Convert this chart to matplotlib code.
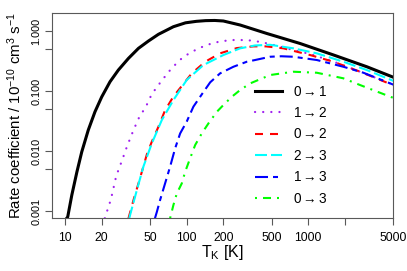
import numpy as np
import matplotlib
matplotlib.use('Agg')
import matplotlib.pyplot as plt
from matplotlib.ticker import FixedLocator, NullLocator

plt.rcParams['font.family'] = ['Liberation Sans', 'DejaVu Sans']
plt.rcParams['mathtext.fontset'] = 'custom'
plt.rcParams['mathtext.rm'] = 'Liberation Sans'
plt.rcParams['mathtext.it'] = 'Liberation Sans'
plt.rcParams['mathtext.fallback'] = 'stixsans'
plt.rcParams['lines.scale_dashes'] = False

# rate coefficients (T in K, k in 1e-10 cm^3 s^-1)
t_01 = [10.3, 10.5, 11.35, 12.5, 13.7, 15.5, 17.6, 20.0, 23.4, 27.4, 33.2, 40.1, 48.4, 58.5,
        77.7, 97.7, 120, 143, 170, 200, 275, 456, 856, 1607, 3030, 5000]
k_01 = [0.00076, 0.0008, 0.00185, 0.0045, 0.0097, 0.0224, 0.0452, 0.080, 0.143, 0.224, 0.351, 0.515, 0.681, 0.881,
        1.18, 1.37, 1.45, 1.49, 1.50, 1.47, 1.26, 0.91, 0.62, 0.40, 0.254, 0.17]

t_12 = [21.2, 21.6, 23.8, 26.3, 29.3, 32.2, 36.5, 41.4, 45.5, 51.6, 62.4, 75.4, 93.9, 124.8, 165.8,
        227, 312, 401, 485, 754, 1035, 1608, 2666, 5000]
k_12 = [0.00076, 0.00086, 0.00157, 0.00383, 0.0069, 0.0118, 0.0224, 0.0398, 0.0515, 0.089, 0.150, 0.242, 0.373,
        0.515, 0.638, 0.708, 0.708, 0.66, 0.607, 0.482, 0.414, 0.31, 0.21, 0.128]

t_02 = [33.2, 36.5, 41.4, 47.0, 51.6, 58.5, 66.4, 77.7, 110, 142, 188, 258, 354, 450, 624, 1035, 1608, 2666, 5000]
k_02 = [0.00076, 0.00153, 0.0036, 0.0088, 0.0143, 0.0254, 0.048, 0.081, 0.197, 0.308, 0.425, 0.52, 0.555, 0.555,
        0.515, 0.398, 0.308, 0.21, 0.125]

t_23 = [33.7, 34.2, 38.9, 44.0, 51.6, 62.4, 77.7, 100, 137, 200, 275, 365, 485, 754, 1175, 1944, 3028, 5000]
k_23 = [0.00076, 0.00086, 0.00224, 0.0055, 0.0134, 0.0329, 0.0708, 0.153, 0.271, 0.398, 0.515, 0.575, 0.59,
        0.515, 0.425, 0.308, 0.224, 0.148]

t_13 = [54.8, 56.8, 60.4, 66.4, 73.0, 80.3, 88.3, 100, 113.5, 133, 156, 188, 242, 312, 365, 485, 600, 754, 1175,
        1944, 2839, 5000]
k_13 = [0.00076, 0.00097, 0.00153, 0.0029, 0.0055, 0.0111, 0.0197, 0.031, 0.055, 0.088, 0.14, 0.197, 0.254, 0.308,
        0.329, 0.373, 0.38, 0.373, 0.329, 0.254, 0.202, 0.128]

t_03 = [73.0, 77.7, 82.9, 91.1, 97.0, 106.7, 117.3, 133, 151, 177, 200, 235, 275, 332, 485, 754, 1175, 1944,
        2666, 5000]
k_03 = [0.00076, 0.00126, 0.00197, 0.0029, 0.0045, 0.0076, 0.0126, 0.0197, 0.029, 0.0452, 0.0584, 0.0804,
        0.104, 0.134, 0.185, 0.21, 0.202, 0.163, 0.126, 0.077]

labels = ['0$\\rightarrow$1', '1$\\rightarrow$2', '0$\\rightarrow$2',
          '2$\\rightarrow$3', '1$\\rightarrow$3', '0$\\rightarrow$3']

x_ticks = [10, 20, 50, 100, 200, 500, 1000, 2000, 5000]
x_ticklabels = ['10', '20', '50', '100', '200', '500', '1000', '', '5000']
y_ticks = [0.001, 0.005, 0.01, 0.05, 0.1, 0.5, 1.0]
y_ticklabels = ['0.001', '', '0.010', '', '0.100', '', '1.000']

px = 0.72  # pixel -> point at dpi 100

fig = plt.figure(figsize=(4.07, 2.71), dpi=100)
ax = fig.add_axes([52 / 407, 1 - 218.3 / 271, 341.3 / 407, 205.6 / 271])

ax.plot(t_01, k_01, color='black', lw=2.2, solid_joinstyle='round', label=labels[0])
ax.plot(t_12, k_12, color='#A020F0', lw=1.6, dashes=(0.1, 8 * px), dash_capstyle='round', label=labels[1])
ax.plot(t_02, k_02, color='red', lw=1.5, dashes=(8 * px, 7 * px), label=labels[2])
ax.plot(t_23, k_23, color='cyan', lw=1.5, dashes=(12 * px, 4 * px), label=labels[3])
ax.plot(t_13, k_13, color='blue', lw=1.5, dashes=(13 * px, 5 * px, 5 * px, 5 * px), label=labels[4])
ax.plot(t_03, k_03, color='#00FF00', lw=1.5, dashes=(2 * px, 6 * px, 8 * px, 6 * px), label=labels[5])

ax.set_xscale('log')
ax.set_yscale('log')
ax.set_xlim(7.8, 5000)
ax.set_ylim(0.00076, 2.02)

ax.xaxis.set_major_locator(FixedLocator(x_ticks))
ax.xaxis.set_minor_locator(NullLocator())
ax.set_xticklabels(x_ticklabels)
ax.yaxis.set_major_locator(FixedLocator(y_ticks))
ax.yaxis.set_minor_locator(NullLocator())
ax.set_yticklabels(y_ticklabels, rotation=90, va='center')

for s in ax.spines.values():
    s.set_color('0.35')
    s.set_linewidth(0.8)
ax.tick_params(axis='both', direction='out', length=4.8, width=0.8, color='0.35')
ax.tick_params(axis='x', labelsize=8.8, pad=5)
ax.tick_params(axis='y', labelsize=7.8, pad=3)

ax.set_xlabel('T$_\\mathrm{K}$ [K]', fontsize=11.5, va='center')
ax.xaxis.set_label_coords(0.5, -0.167)
ax.set_ylabel('Rate coefficient / 10$^{-10}$ cm$^{3}$ s$^{-1}$', fontsize=10.8, va='center')
ax.yaxis.set_label_coords(-0.108, 0.5)

ax.legend(loc='upper left', bbox_to_anchor=(255 / 407, 1 - 84.5 / 271),
          bbox_transform=fig.transFigure, frameon=False, fontsize=9.8,
          borderpad=0, borderaxespad=0, handlelength=2.0, handletextpad=0.8,
          labelspacing=0.55)

fig.savefig('out.png', dpi=100)
